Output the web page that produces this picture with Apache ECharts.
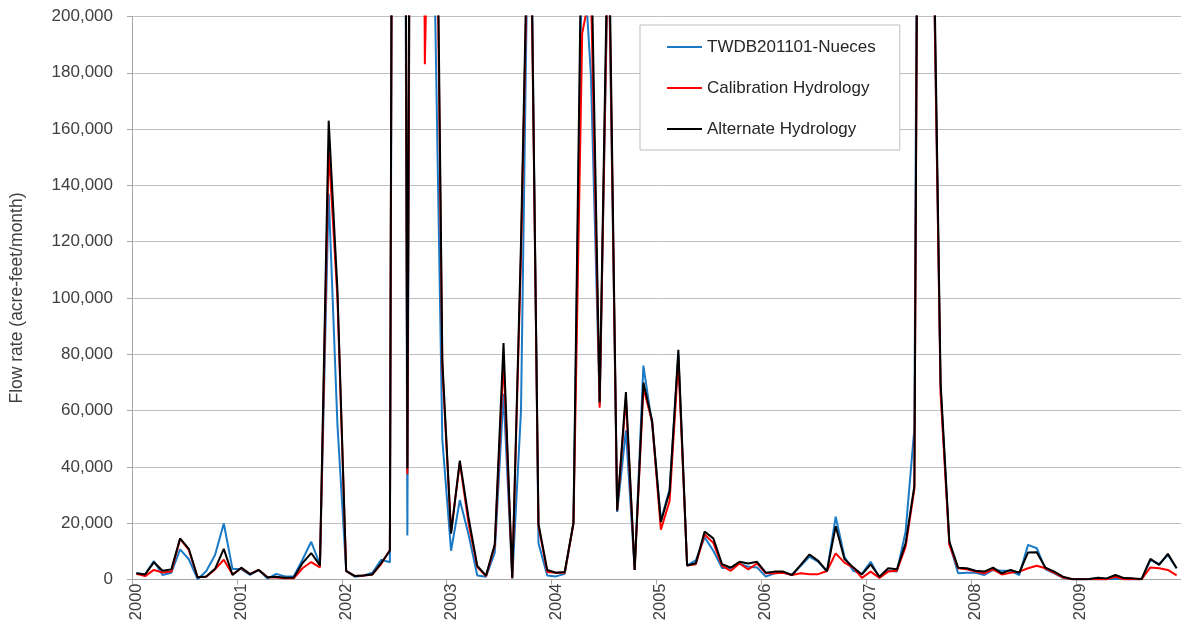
<!DOCTYPE html>
<html>
<head>
<meta charset="utf-8">
<script src="https://cdn.jsdelivr.net/npm/echarts@6/dist/echarts.min.js"></script>
<style>
html,body{margin:0;padding:0;background:#ffffff;overflow:hidden}
#chart{width:1181px;height:638px}
</style>
</head>
<body>
<div id="chart"></div>
<script>
// ---- data (acre-feet/month), monthly Jan 2000 .. Dec 2009 ----
const years = ['2000','2001','2002','2003','2004','2005','2006','2007','2008','2009'];
const seriesNames = ['TWDB201101-Nueces', 'Calibration Hydrology', 'Alternate Hydrology'];
const yTicks = { min: 0, max: 200000, step: 20000 };

const twdb = [
  2200,1800,6600,1600,2400,10700,7200,100,3000,8700,19900,3700,
  3700,1600,3400,300,2000,1100,1100,7000,13400,5400,137000,55000,
  3000,1000,1400,2400,7000,6100,1000000,15600,850000,380000,235000,49600,
  10200,28200,16000,1400,1000,9500,66000,300,60000,280000,12900,1400,
  1100,2000,20000,230000,179000,62000,230000,24000,53000,3400,76000,55000,
  21000,32000,80000,5000,6800,15000,10200,4100,4100,5700,4500,4300,
  1000,2200,2400,1600,4900,8100,6300,2800,22300,8100,3100,2000,
  6300,700,3100,2800,17100,53700,700000,260000,68000,12900,2200,2400,
  2400,1600,3400,3100,3100,1600,12300,11100,3600,2200,600,100,
  100,100,100,100,300,100,100,100,6900,5500,8700,4000
];
const calibration = [
  2000,1200,3400,2500,2800,14400,10500,800,1000,3600,7000,1800,
  4000,1900,3400,800,700,400,400,4000,6200,4300,153000,100000,
  3000,1200,1400,1800,5500,10500,1050000,37400,800000,183000,340000,75000,
  17000,41500,20000,4400,1200,12000,78000,500,115000,265000,19000,2700,
  2400,2400,19800,194000,210000,61000,235000,24500,64600,3400,68000,56000,
  17700,27900,78000,5000,5400,16000,13000,4800,3100,5700,3600,5700,
  2200,2200,2400,1600,2200,1900,1900,3000,9300,6000,4200,600,
  2800,600,2800,3100,11700,32100,650000,265000,66000,12300,4000,3600,
  2800,2200,3600,1800,2400,2800,4000,4900,4000,2400,700,100,
  100,100,100,100,1000,100,100,100,4300,4000,3400,1500
];
const alternate = [
  2200,1800,6100,3100,3600,14600,10900,800,1100,3800,10900,1600,
  4200,1900,3400,800,1000,600,700,5800,9400,5000,163000,103000,
  3100,1200,1400,1800,5800,10200,1100000,39400,880000,420000,360000,78000,
  16300,42200,22000,4800,1400,12500,84000,600,120000,270000,19700,3400,
  2400,2700,20100,250000,230000,63000,245000,24500,66600,3400,70000,56400,
  20400,31300,81600,5000,5800,17000,14600,5400,4200,6300,5700,6300,
  2400,2800,2800,1600,5200,8900,6600,3000,18900,7300,4300,1800,
  5400,1000,4000,3600,12900,33300,630000,273000,70000,13500,4200,4000,
  3100,2800,4200,2200,3400,2400,9600,9700,4200,2800,1000,200,
  100,200,600,400,1600,500,400,200,7300,5200,9100,4000
];

// month categories built from the year labels
const categories = [];
years.forEach(function (y) {
  for (let m = 1; m <= 12; m++) categories.push(y + '-' + (m < 10 ? '0' + m : m));
});

const FONT = 'Liberation Sans';
const chart = echarts.init(document.getElementById('chart'), null, { renderer: 'canvas' });
chart.setOption({
  animation: false,
  backgroundColor: '#ffffff',
  textStyle: { fontFamily: FONT },
  grid: { left: 132, top: 16.5, width: 1058, height: 563, containLabel: false },
  legend: {
    orient: 'vertical',
    left: 640,
    top: 25,
    backgroundColor: '#ffffff',
    borderColor: '#bfbfbf',
    borderWidth: 1,
    borderRadius: 0,
    padding: [13, 24, 12, 27],
    icon: 'rect',
    itemWidth: 35,
    itemHeight: 2,
    itemGap: 23,
    textStyle: { fontSize: 17, lineHeight: 18, color: '#262626', fontFamily: FONT },
    data: seriesNames
  },
  xAxis: {
    type: 'category',
    data: categories,
    boundaryGap: true,
    axisLine: { show: true, lineStyle: { color: '#a6a6a6', width: 1 } },
    axisTick: { show: true, interval: 11, length: 5, lineStyle: { color: '#a6a6a6' } },
    axisLabel: {
      interval: 11, rotate: 90, margin: 4, fontSize: 16.5, color: '#404040', fontFamily: FONT,
      formatter: function (v) { return v.slice(0, 4); }
    },
    splitLine: { show: false }
  },
  yAxis: {
    type: 'value',
    min: yTicks.min,
    max: yTicks.max,
    interval: yTicks.step,
    name: 'Flow rate (acre-feet/month)',
    nameLocation: 'middle',
    nameRotate: 90,
    nameGap: 106,
    nameTextStyle: { fontSize: 17.5, color: '#404040', fontFamily: FONT },
    axisLine: { show: true, lineStyle: { color: '#a6a6a6', width: 1 } },
    axisTick: { show: true, length: 5, lineStyle: { color: '#a6a6a6' } },
    axisLabel: {
      fontSize: 17, color: '#404040', margin: 19, fontFamily: FONT,
      formatter: function (v) { return v.toLocaleString('en-US'); }
    },
    splitLine: { show: true, lineStyle: { color: '#c0c0c0', width: 1 } }
  },
  series: [
    { name: seriesNames[0], type: 'line', data: twdb, showSymbol: false, symbol: 'none',
      clip: true, lineStyle: { color: '#1a7ac6', width: 2 }, itemStyle: { color: '#1a7ac6' }, z: 2 },
    { name: seriesNames[1], type: 'line', data: calibration, showSymbol: false, symbol: 'none',
      clip: true, lineStyle: { color: '#ff0000', width: 2 }, itemStyle: { color: '#ff0000' }, z: 3 },
    { name: seriesNames[2], type: 'line', data: alternate, showSymbol: false, symbol: 'none',
      clip: true, lineStyle: { color: '#000000', width: 2 }, itemStyle: { color: '#000000' }, z: 4 }
  ]
});
</script>
</body>
</html>
